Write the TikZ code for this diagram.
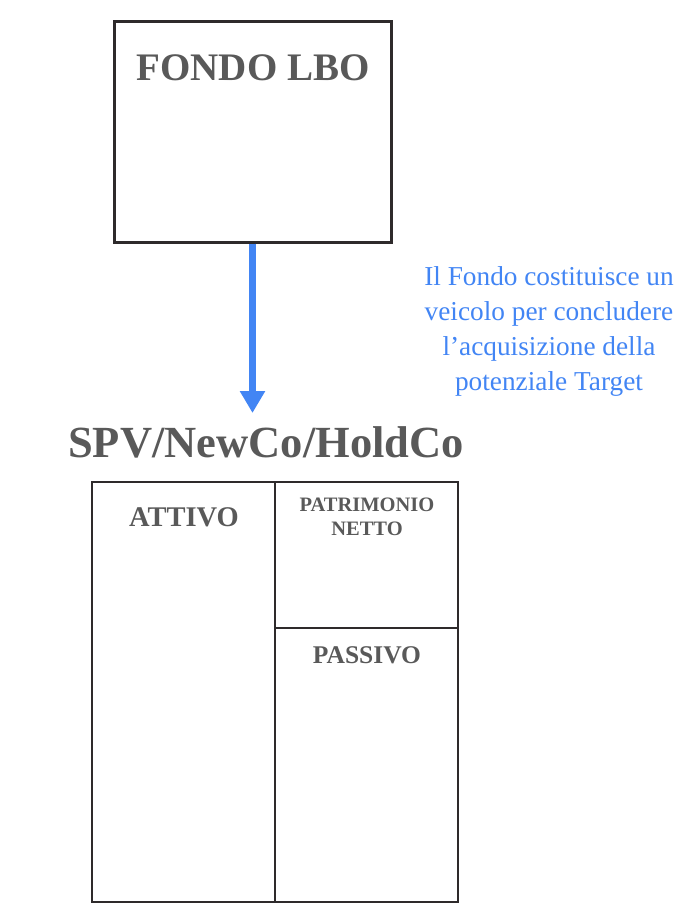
\documentclass[tikz,border=0pt]{standalone}
\usepackage{fontspec}
\setmainfont{Liberation Serif}
\usetikzlibrary{arrows.meta}
\definecolor{boxline}{HTML}{2E2A2B}
\definecolor{greytxt}{HTML}{595959}
\definecolor{bluearrow}{HTML}{4285F4}
\tikzset{
  frame/.style={draw=boxline, line width=3pt, inner sep=0pt},
  cell/.style={draw=boxline, line width=2.2pt, inner sep=0pt},
  title/.style={text=greytxt, font=\bfseries\fontsize{39}{42}\selectfont, inner sep=0pt},
  celltitle/.style={text=greytxt, font=\bfseries\fontsize{25.5}{28}\selectfont, inner sep=0pt},
  smalltitle/.style={text=greytxt, font=\bfseries\fontsize{20.5}{24}\selectfont, inner sep=0pt, align=center},
  note/.style={text=bluearrow, font=\fontsize{27.3}{35}\selectfont, inner sep=0pt, align=center},
}
\begin{document}
\begin{tikzpicture}[x=1pt,y=-1pt]
\useasboundingbox (0,0) rectangle (689,906);
% top box
\node[frame, minimum width=277pt, minimum height=221pt] (fondo) at (252.5,131.5) {};
\node[title] (fondolbl) at (253,68) {FONDO LBO};
% arrow
\coordinate (tip) at (252.5,413);
\draw[draw=bluearrow, line width=7pt, -{Triangle[width=24pt,length=22pt]}] (fondo.south) -- (tip);
% note
\node[note] (note) at (549,331) {Il Fondo costituisce un\\veicolo per concludere\\l’acquisizione della\\potenziale Target};
% SPV title
\node[title, font=\bfseries\fontsize{44.5}{48}\selectfont] (spv) at (266,442) {SPV/NewCo/HoldCo};
% balance sheet
\node[cell, minimum width=183pt, minimum height=420pt] (attivo) at (183.5,692) {};
\node[cell, minimum width=183pt, minimum height=146pt] (pn) at (366.5,555) {};
\node[cell, minimum width=183pt, minimum height=274pt] (passivo) at (366.5,765) {};
\node[celltitle, font=\bfseries\fontsize{28.5}{30}\selectfont] (attivolbl) at (184,517) {ATTIVO};
\node[smalltitle] (pnlbl) at (367,517) {PATRIMONIO\\NETTO};
\node[celltitle] (passivolbl) at (367,655) {PASSIVO};
\end{tikzpicture}
\end{document}
